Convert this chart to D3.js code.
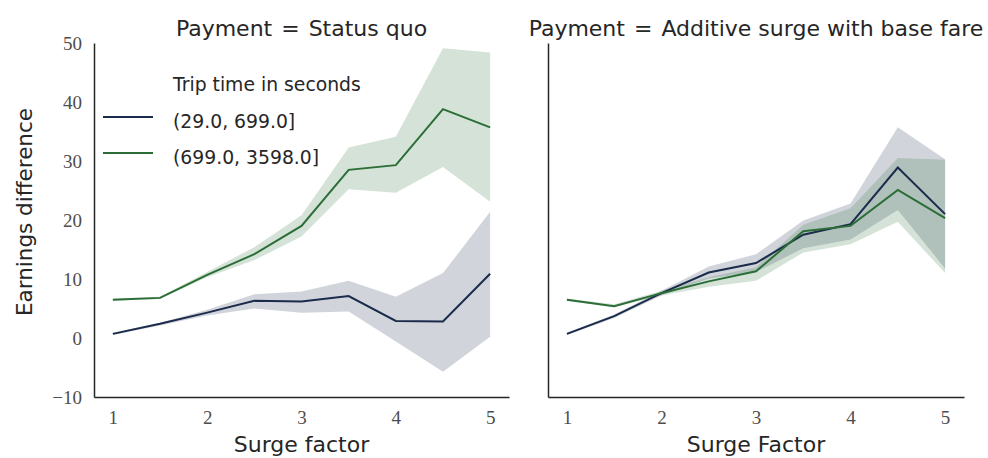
<!DOCTYPE html>
<html>
<head>
<meta charset="utf-8">
<script src="https://cdn.jsdelivr.net/npm/d3@7"></script>
<style>
  body { margin: 0; background: #fff; }
  .title, .axis_label, .legend_text { font-family: "DejaVu Sans", sans-serif; fill: #262626; }
  .tick text { font-family: "Liberation Serif", "DejaVu Serif", serif; fill: #4d4d4d; }
</style>
</head>
<body>
<div id="chart"></div>
<script>
// surge factor bins on the x axis
const surge = [1, 1.5, 2, 2.5, 3, 3.5, 4, 4.5, 5];
const xTicks = [1, 2, 3, 4, 5];
const yTicks = [-10, 0, 10, 20, 30, 40, 50];

const tripBins = ["(29.0, 699.0]", "(699.0, 3598.0]"];
const binColors = ["#1a2b4c", "#2b6d36"];

// Payment = Status quo
const sqShort   = [0.7, 2.4, 4.3, 6.3, 6.2, 7.1, 2.9, 2.8, 10.9];
const sqShortLo = [0.5, 2.1, 3.8, 5.0, 4.3, 4.5, -0.6, -5.7, 0.2];
const sqShortHi = [0.9, 2.6, 4.8, 7.4, 7.9, 9.7, 7.0, 11.0, 21.4];
const sqLong    = [6.5, 6.8, 10.7, 14.2, 19.0, 28.5, 29.3, 38.8, 35.7];
const sqLongLo  = [6.3, 6.6, 10.3, 13.2, 17.2, 25.2, 24.6, 29.0, 23.1];
const sqLongHi  = [6.7, 7.0, 11.2, 15.4, 20.8, 32.3, 34.1, 49.1, 48.4];

// Payment = Additive surge with base fare
const addShort   = [0.7, 3.7, 7.6, 11.1, 12.7, 17.5, 19.3, 28.9, 21.0];
const addShortLo = [0.5, 3.4, 7.2, 10.1, 11.2, 15.2, 16.7, 21.7, 11.8];
const addShortHi = [0.9, 4.0, 8.0, 12.1, 14.2, 19.9, 22.8, 35.7, 30.3];
const addLong    = [6.5, 5.4, 7.6, 9.6, 11.3, 18.1, 19.0, 25.1, 20.3];
const addLongLo  = [6.3, 5.2, 7.2, 8.7, 9.7, 14.5, 15.9, 19.7, 11.0];
const addLongHi  = [6.7, 5.7, 8.0, 10.3, 12.0, 19.2, 22.0, 30.5, 30.2];

const panels = [
  { payment: "Status quo", xlabel: "Surge factor", left: 94, right: 509, showY: true,
    series: [[sqShort, sqShortLo, sqShortHi], [sqLong, sqLongLo, sqLongHi]] },
  { payment: "Additive surge with base fare", xlabel: "Surge Factor", left: 548, right: 964, showY: false,
    series: [[addShort, addShortLo, addShortHi], [addLong, addLongLo, addLongHi]] }
];

const width = 988, height = 458;
const plotTop = 43, plotBottom = 397;
const fontSize = "22px";
const legendSize = "18.8px";

const svg = d3.select("#chart").append("svg")
  .attr("width", width)
  .attr("height", height);

const y = d3.scaleLinear().domain([-10, 50]).range([plotBottom, plotTop]);

panels.forEach(p => {
  const x = d3.scaleLinear().domain([0.8, 5.2]).range([p.left, p.right]);
  const g = svg.append("g");

  // confidence bands first, then lines
  p.series.forEach((s, i) => {
    const rows = surge.map((v, j) => ({ x: v, m: s[0][j], lo: s[1][j], hi: s[2][j] }));
    g.append("path")
      .datum(rows)
      .attr("fill", binColors[i])
      .attr("fill-opacity", 0.2)
      .attr("d", d3.area().x(d => x(d.x)).y0(d => y(d.lo)).y1(d => y(d.hi)));
  });
  p.series.forEach((s, i) => {
    const rows = surge.map((v, j) => ({ x: v, m: s[0][j] }));
    g.append("path")
      .datum(rows)
      .attr("fill", "none")
      .attr("stroke", binColors[i])
      .attr("stroke-width", 2)
      .attr("d", d3.line().x(d => x(d.x)).y(d => y(d.m)));
  });

  // x axis
  const ax = g.append("g")
    .attr("transform", `translate(0,${plotBottom})`)
    .call(d3.axisBottom(x).tickValues(xTicks).tickSize(0).tickPadding(14).tickFormat(d3.format("d")));
  ax.select(".domain").attr("stroke", "#262626").attr("stroke-width", 1.5);
  ax.selectAll(".tick text").style("font-size", "19px");

  // y axis
  const ay = g.append("g")
    .attr("transform", `translate(${p.left},0)`)
    .call(d3.axisLeft(y).tickValues(yTicks).tickSize(0).tickPadding(12)
      .tickFormat(p.showY ? (d => d < 0 ? "\u2212" + Math.abs(d) : d) : ""));
  ay.select(".domain").attr("stroke", "#262626").attr("stroke-width", 1.5);
  ay.selectAll(".tick text").style("font-size", "19px");

  // title, with math-style spacing round the "="
  const t = svg.append("text")
    .attr("class", "title")
    .attr("x", (p.left + p.right) / 2)
    .attr("y", 36)
    .attr("text-anchor", "middle")
    .attr("xml:space", "preserve")
    .style("white-space", "pre")
    .style("font-size", fontSize);
  t.append("tspan").text("Payment ");
  t.append("tspan").attr("dx", 2).text("= ");
  t.append("tspan").attr("dx", 2).text(p.payment);

  svg.append("text")
    .attr("class", "axis_label")
    .attr("x", (p.left + p.right) / 2)
    .attr("y", 452)
    .attr("text-anchor", "middle")
    .style("font-size", fontSize)
    .text(p.xlabel);
});

// y label
svg.append("text")
  .attr("class", "axis_label")
  .attr("transform", "rotate(-90)")
  .attr("x", -212)
  .attr("y", 32)
  .attr("text-anchor", "middle")
  .style("font-size", "21.5px")
  .text("Earnings difference");

// legend
const legend = svg.append("g");
legend.append("text")
  .attr("class", "legend_text")
  .attr("x", 173)
  .attr("y", 91)
  .style("font-size", legendSize)
  .text("Trip time in seconds");
tripBins.forEach((b, i) => {
  const ly = 117 + i * 36;
  legend.append("line")
    .attr("x1", 103).attr("x2", 153)
    .attr("y1", ly).attr("y2", ly)
    .attr("stroke", binColors[i])
    .attr("stroke-width", 2);
  legend.append("text")
    .attr("class", "legend_text")
    .attr("x", 173)
    .attr("y", ly + 11)
    .style("font-size", legendSize)
    .text(b);
});
</script>
</body>
</html>
